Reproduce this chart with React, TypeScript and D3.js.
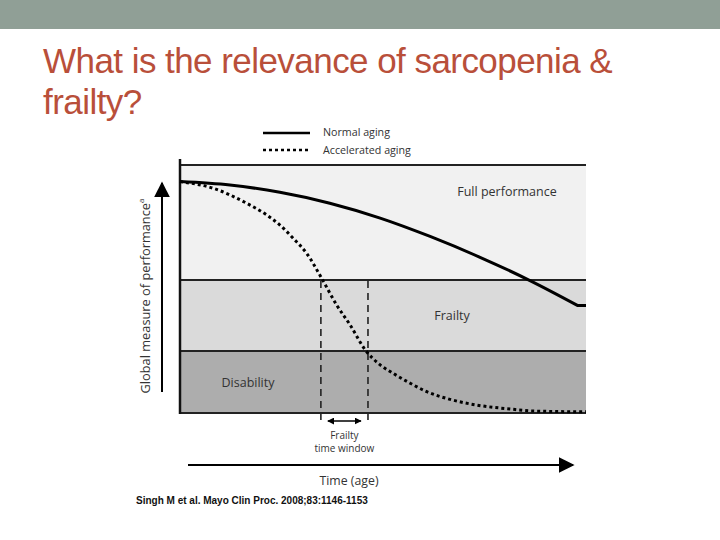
import React from 'react';
import * as d3 from 'd3';

// time runs 0..100 across the plot, performance 0..100 bottom to top
const bandNames = ['Disability', 'Frailty', 'Full performance'];
const bandEdges = [0, 25, 53.6, 100];
const bandColors = ['#adadad', '#dadada', '#f1f1f1'];

// normal aging: smooth decline, then flat after the last bend
const normalTime = [0, 12.3, 24.6, 36.9, 49.3, 61.6, 73.9, 86.2, 98];
const normalPerf = [93.3, 91.9, 89, 84.6, 78.6, 71.2, 62.8, 53.4, 43.3];
const normalTailTime = [98, 100];
const normalTailPerf = [43.3, 43.3];

const accelTime = [0, 8.2, 16.4, 21.4, 24.6, 27.9, 31.2, 34.9, 38.6, 41.9, 45.6, 49.3, 52.5, 56.7, 60.8, 66.5, 73.1, 81.3, 87, 99.3, 100];
const accelPerf = [93.3, 90.6, 84.6, 79.8, 75.8, 70.4, 64.4, 54.3, 43.5, 35.5, 25.5, 19.4, 16, 12, 8.6, 5.5, 3.2, 1.6, 0.8, 0.5, 0.5];

const windowTimes = [34.7, 46.3];

const W = 720;
const H = 540;
const x = d3.scaleLinear().domain([0, 100]).range([180, 586]);
const y = d3.scaleLinear().domain([0, 100]).range([413, 165]);

const sans = "'Open Sans', 'DejaVu Sans', sans-serif";
const titleFont = "'Liberation Sans', Arial, sans-serif";

const makeLine = (times: number[], curve: d3.CurveFactory) =>
  d3
    .line<number>()
    .x((_, i) => x(times[i]))
    .y((d) => y(d))
    .curve(curve);

export default function App() {
  const normalPath =
    (makeLine(normalTime, d3.curveMonotoneX)(normalPerf) ?? '') +
    (makeLine(normalTailTime, d3.curveLinear)(normalTailPerf) ?? '').replace(/^M/, 'L');
  const accelPath = makeLine(accelTime, d3.curveMonotoneX)(accelPerf) ?? '';

  const bandLabelPos = [
    { x: 248, y: 384 },
    { x: 452, y: 317 },
    { x: 507, y: 193 },
  ];
  const midWin = (x(windowTimes[0]) + x(windowTimes[1])) / 2;

  return (
    <svg width={W} height={H} style={{ position: 'absolute', left: 0, top: 0 }}>
      <defs>
        <marker id="arr" viewBox="0 0 10 10" refX="9" refY="5" markerWidth="7" markerHeight="7" orient="auto-start-reverse" markerUnits="userSpaceOnUse">
          <path d="M0,0 L10,5 L0,10 z" fill="#000" />
        </marker>
        <marker id="bigArr" viewBox="0 0 10 10" refX="9" refY="5" markerWidth="16" markerHeight="16" orient="auto" markerUnits="userSpaceOnUse">
          <path d="M0,0 L10,5 L0,10 z" fill="#000" />
        </marker>
      </defs>
      <rect x={0} y={0} width={W} height={H} fill="#fff" />
      <rect x={0} y={0} width={W} height={29} fill="#909f96" />
      <text x={43} y={73} fontFamily={titleFont} fontSize={35} fill="#b94f3a" letterSpacing={-0.55}>
        What is the relevance of sarcopenia &amp;
      </text>
      <text x={43} y={114} fontFamily={titleFont} fontSize={35} fill="#b94f3a" letterSpacing={-0.55}>
        frailty?
      </text>

      {/* bands */}
      {bandNames.map((name, i) => (
        <rect
          key={name}
          x={x(0)}
          y={y(bandEdges[i + 1])}
          width={x(100) - x(0)}
          height={y(bandEdges[i]) - y(bandEdges[i + 1])}
          fill={bandColors[i]}
        />
      ))}
      {bandEdges.map((e) => (
        <line key={e} x1={x(0)} x2={x(100)} y1={y(e)} y2={y(e)} stroke="#222" strokeWidth={2} />
      ))}
      <line x1={x(0)} x2={x(0)} y1={159} y2={y(0) + 1} stroke="#111" strokeWidth={2.5} />

      {bandNames.map((name, i) => (
        <text key={name} x={bandLabelPos[i].x} y={bandLabelPos[i].y} textAnchor="middle" dominantBaseline="middle" fontFamily={sans} fontSize={12.5} fill="#333">
          {name}
        </text>
      ))}

      {/* frailty window */}
      {windowTimes.map((t) => (
        <line key={t} x1={x(t)} x2={x(t)} y1={y(53.6) + 1} y2={422} stroke="#222" strokeWidth={1.6} strokeDasharray="7,5" />
      ))}
      <line x1={x(windowTimes[0]) + 7} x2={x(windowTimes[1]) - 7} y1={421} y2={421} stroke="#000" strokeWidth={1.5} markerStart="url(#arr)" markerEnd="url(#arr)" />
      <text x={midWin} y={436} textAnchor="middle" dominantBaseline="middle" fontFamily={sans} fontSize={10} fill="#333">
        Frailty
      </text>
      <text x={midWin} y={449} textAnchor="middle" dominantBaseline="middle" fontFamily={sans} fontSize={10} fill="#333">
        time window
      </text>

      {/* curves */}
      <path d={normalPath} fill="none" stroke="#000" strokeWidth={3} strokeLinejoin="round" />
      <path d={accelPath} fill="none" stroke="#000" strokeWidth={3} strokeDasharray="3,3" />

      {/* axis arrows */}
      <line x1={162} x2={162} y1={392} y2={183} stroke="#000" strokeWidth={2} markerEnd="url(#bigArr)" />
      <text transform="translate(147,296) rotate(-90)" textAnchor="middle" dominantBaseline="middle" fontFamily={sans} fontSize={12.8} fill="#333">
        Global measure of performance<tspan fontSize={8} dy={-5}>a</tspan>
      </text>
      <line x1={188} x2={573} y1={465} y2={465} stroke="#000" strokeWidth={2} markerEnd="url(#bigArr)" />
      <text x={349} y={482} textAnchor="middle" dominantBaseline="middle" fontFamily={sans} fontSize={12.3} fill="#333">
        Time (age)
      </text>

      {/* legend */}
      <line x1={263} x2={310} y1={133} y2={133} stroke="#000" strokeWidth={2.5} />
      <line x1={263} x2={310} y1={150} y2={150} stroke="#000" strokeWidth={2.5} strokeDasharray="3,3" />
      <text x={323} y={133} dominantBaseline="middle" fontFamily={sans} fontSize={10.7} fill="#333">
        Normal aging
      </text>
      <text x={323} y={151} dominantBaseline="middle" fontFamily={sans} fontSize={10.7} fill="#333">
        Accelerated aging
      </text>

      <text x={136} y={501} dominantBaseline="middle" fontFamily={titleFont} fontWeight="bold" fontSize={10} fill="#111">
        Singh M et al. Mayo Clin Proc. 2008;83:1146-1153
      </text>
    </svg>
  );
}
